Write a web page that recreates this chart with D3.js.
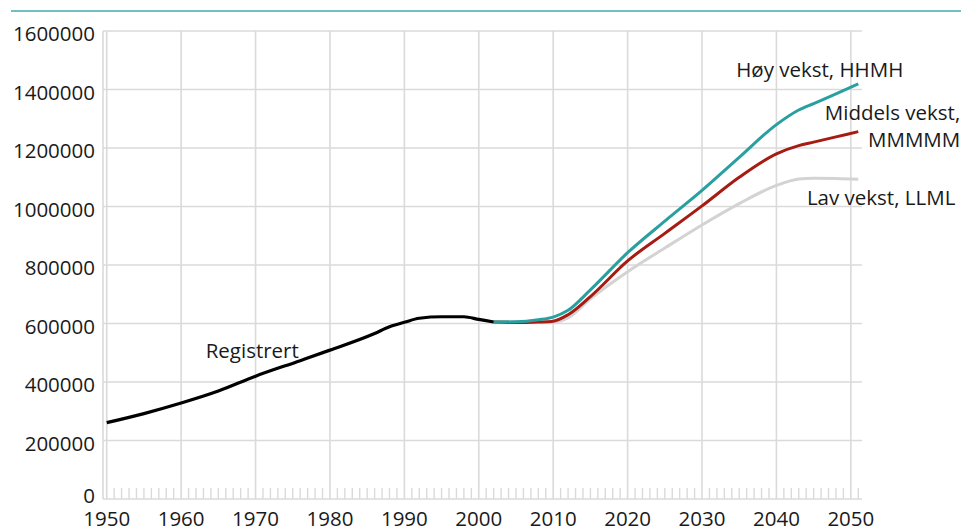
<!DOCTYPE html>
<html>
<head>
<meta charset="utf-8">
<script src="https://cdn.jsdelivr.net/npm/d3@7"></script>
<style>
  body { margin: 0; background: #fff; }
  text { font-family: "Open Sans", sans-serif; fill: #1a1a1a; }
</style>
</head>
<body>
<div id="chart"></div>
<script>
const width = 961;
const height = 531;

// Registrert
const reg_years = [1950, 1955, 1960, 1965, 1970, 1976, 1980, 1986, 1988, 1990, 1992, 1995, 1998, 2000, 2002];
const reg_values = [261000, 292000, 328000, 369000, 420000, 473000, 509000, 566000, 589000, 604000, 618000, 623000, 623000, 614000, 605000];

// Framskrivinger
const proj_years = [2002, 2005, 2008, 2010, 2012, 2015, 2020, 2025, 2030, 2035, 2040, 2043, 2045, 2048, 2051];
const high_values = [605000, 606000, 613000, 622000, 645000, 715000, 842000, 950000, 1055000, 1168000, 1280000, 1330000, 1352000, 1385000, 1419000];
const mid_values  = [605000, 603000, 605000, 608000, 630000, 692000, 814000, 908000, 1002000, 1100000, 1180000, 1208000, 1220000, 1238000, 1256000];
const low_values  = [605000, 606000, 605000, 605000, 619000, 684000, 777000, 858000, 937000, 1010000, 1072000, 1094000, 1097000, 1096000, 1093000];

const y_ticks = [0, 200000, 400000, 600000, 800000, 1000000, 1200000, 1400000, 1600000];
const x_ticks = [1950, 1960, 1970, 1980, 1990, 2000, 2010, 2020, 2030, 2040, 2050];

const x = d3.scaleLinear().domain([1949.5, 2051.5]).range([103, 862]);
const y = d3.scaleLinear().domain([0, 1600000]).range([499, 31]);

const svg = d3.select('#chart')
  .append('svg')
    .attr('width', width)
    .attr('height', height);

// top rule
svg.append('line')
  .attr('x1', 11).attr('x2', width)
  .attr('y1', 11).attr('y2', 11)
  .attr('stroke', '#6fc0c0')
  .attr('stroke-width', 2);

const grid = '#dadada';

// horizontal grid + y labels
svg.selectAll('.hgrid')
    .data(y_ticks)
  .join('line')
    .attr('class', 'hgrid')
    .attr('x1', x.range()[0]).attr('x2', x.range()[1])
    .attr('y1', d => y(d)).attr('y2', d => y(d))
    .attr('stroke', grid)
    .attr('stroke-width', 1.6);

svg.selectAll('.ylab')
    .data(y_ticks)
  .join('text')
    .attr('class', 'ylab')
    .attr('x', 95)
    .attr('y', d => y(d) + (d === 0 ? -3 : 3))
    .attr('dy', '0.35em')
    .attr('text-anchor', 'end')
    .style('font-size', '20.5px')
    .text(d => d);

// vertical grid
svg.selectAll('.vgrid')
    .data(x_ticks)
  .join('line')
    .attr('class', 'vgrid')
    .attr('x1', d => x(d)).attr('x2', d => x(d))
    .attr('y1', y(1600000)).attr('y2', y(0))
    .attr('stroke', grid)
    .attr('stroke-width', 1.6);

// left axis line
svg.append('line')
  .attr('x1', x.range()[0]).attr('x2', x.range()[0])
  .attr('y1', y(1600000)).attr('y2', y(0))
  .attr('stroke', grid)
  .attr('stroke-width', 1.6);

// yearly minor ticks
const minor = d3.range(1951, 2052).filter(d => d % 10 !== 0);
svg.selectAll('.minor')
    .data(minor)
  .join('line')
    .attr('class', 'minor')
    .attr('x1', d => x(d)).attr('x2', d => x(d))
    .attr('y1', y(0) - 11).attr('y2', y(0))
    .attr('stroke', grid)
    .attr('stroke-width', 1.4);

svg.selectAll('.xlab')
    .data(x_ticks)
  .join('text')
    .attr('class', 'xlab')
    .attr('x', d => x(d))
    .attr('y', 526)
    .attr('text-anchor', 'middle')
    .style('font-size', '20.5px')
    .text(d => d);

const line = d3.line()
  .x(d => x(d[0]))
  .y(d => y(d[1]))
  .curve(d3.curveMonotoneX);

const series = [
  { values: low_values, color: '#d3d3d3' },
  { values: mid_values, color: '#a61b12' },
  { values: high_values, color: '#2a9f9f' }
];

series.forEach(s => {
  svg.append('path')
    .datum(proj_years.map((yr, i) => [yr, s.values[i]]))
    .attr('fill', 'none')
    .attr('stroke', s.color)
    .attr('stroke-width', 3)
    .attr('d', line);
});

svg.append('path')
  .datum(reg_years.map((yr, i) => [yr, reg_values[i]]))
  .attr('fill', 'none')
  .attr('stroke', '#000')
  .attr('stroke-width', 3.2)
  .attr('d', line);

// labels
const labels = [
  { text: 'Høy vekst, HHMH', year: 2034.6, value: 1444000, anchor: 'start' },
  { text: 'Middels vekst,', year: 2064.7, value: 1296000, anchor: 'end' },
  { text: 'MMMMM', year: 2064.7, value: 1204000, anchor: 'end' },
  { text: 'Lav vekst, LLML', year: 2044.1, value: 1005000, anchor: 'start' },
  { text: 'Registrert', year: 1963.3, value: 481000, anchor: 'start' }
];
svg.selectAll('.lab')
    .data(labels)
  .join('text')
    .attr('class', 'lab')
    .attr('x', d => x(d.year))
    .attr('y', d => y(d.value))
    .attr('text-anchor', d => d.anchor)
    .style('font-size', '20.5px')
    .text(d => d.text);
</script>
</body>
</html>
